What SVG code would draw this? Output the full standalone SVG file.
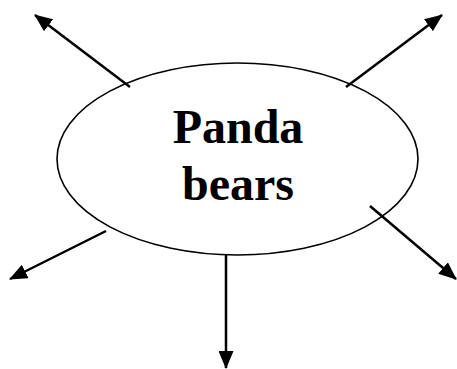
<svg xmlns="http://www.w3.org/2000/svg" width="457" height="369" viewBox="0 0 457 369">
<style>
.conn{stroke:#000;stroke-width:2.5;fill:none;marker-end:url(#ah)}
.node{fill:#fff;stroke:#000;stroke-width:1.6}
.lbl{font-family:"Liberation Serif","Times New Roman",serif;font-weight:bold;font-size:48px;fill:#000;text-anchor:middle}
</style>
<defs>
<marker id="ah" markerUnits="userSpaceOnUse" markerWidth="18" markerHeight="15" refX="17" refY="7.5" orient="auto">
<path d="M0,0 L18,7.5 L0,15 Z" fill="#000"/>
</marker>
</defs>
<rect width="457" height="369" fill="#fff"/>
<g id="center">
<ellipse class="node" cx="237.5" cy="159" rx="180.5" ry="96"/>
<text class="lbl" x="238" y="143">Panda</text>
<text class="lbl" x="238" y="200">bears</text>
</g>
<g id="connectors">
<line class="conn" x1="130" y1="87" x2="35" y2="15"/>
<line class="conn" x1="346" y1="87" x2="442" y2="15"/>
<line class="conn" x1="106" y1="231" x2="10" y2="279"/>
<line class="conn" x1="370" y1="206" x2="456" y2="279"/>
<line class="conn" x1="226" y1="255" x2="226" y2="368"/>
</g>
</svg>
